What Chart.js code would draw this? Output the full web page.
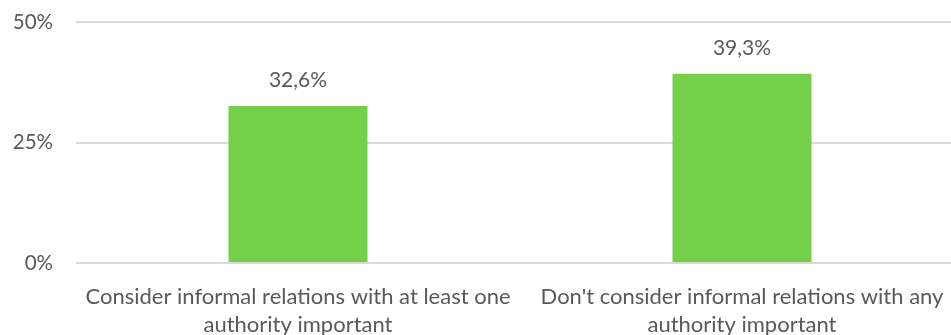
<!DOCTYPE html>
<html>
<head>
<meta charset="utf-8">
<script src="https://cdn.jsdelivr.net/npm/chart.js@4/dist/chart.umd.min.js"></script>
<style>
  html, body { margin: 0; padding: 0; background: #fff; overflow: hidden; }
  #wrap { width: 964px; height: 348px; margin-top: -13px; position: relative; }
</style>
</head>
<body>
<div id="wrap"><canvas id="relChart"></canvas></div>
<script>
var categories = [
    ['Consider informal relations with at least one', 'authority important'],
    ["Don't consider informal relations with any", 'authority important']
];
var shares = [32.6, 39.3];
var yTicks = [0, 25, 50];

var barGreen = '#74CF49';
var textGrey = '#595959';
var gridGrey = '#D9D9D9';
var fontFamily = 'Lato, "Open Sans", sans-serif';

// value labels above each bar, written with a decimal comma
var valueLabels = {
    id: 'valueLabels',
    afterDatasetsDraw: function(chart) {
        var ctx = chart.ctx;
        var meta = chart.getDatasetMeta(0);
        ctx.save();
        ctx.fillStyle = textGrey;
        ctx.font = '21px ' + fontFamily;
        ctx.textAlign = 'center';
        ctx.textBaseline = 'middle';
        meta.data.forEach(function(bar, i) {
            var txt = shares[i].toFixed(1).replace('.', ',') + '%';
            ctx.fillText(txt, bar.x, bar.y - 26);
        });
        ctx.restore();
    }
};

new Chart(document.getElementById('relChart'), {
    type: 'bar',
    data: {
        labels: categories,
        datasets: [{
            data: shares,
            backgroundColor: barGreen,
            barPercentage: 1,
            categoryPercentage: 0.313
        }]
    },
    options: {
        responsive: true,
        maintainAspectRatio: false,
        animation: false,
        layout: { padding: 0 },
        plugins: {
            legend: { display: false },
            tooltip: { enabled: false }
        },
        scales: {
            x: {
                grid: { display: false },
                border: { display: false },
                afterFit: function(scale) { scale.height = 72; },
                ticks: {
                    color: textGrey,
                    font: { family: fontFamily, size: 22, lineHeight: 1.27 },
                    maxRotation: 0,
                    padding: 12
                }
            },
            y: {
                min: 0,
                max: 50,
                afterBuildTicks: function(scale) {
                    scale.ticks = yTicks.map(function(v) { return { value: v }; });
                },
                afterFit: function(scale) { scale.width = 76; },
                grid: { color: gridGrey, lineWidth: 2, drawTicks: false },
                border: { display: false },
                ticks: {
                    color: textGrey,
                    font: { family: fontFamily, size: 20.5 },
                    padding: 23,
                    callback: function(v) { return v + '%'; }
                }
            }
        }
    },
    plugins: [valueLabels]
});
</script>
</body>
</html>
